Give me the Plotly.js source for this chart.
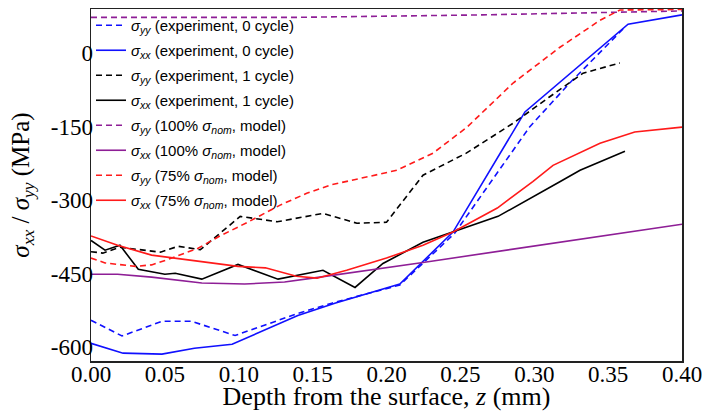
<!DOCTYPE html>
<html>
<head>
<meta charset="utf-8">
<script src="https://cdn.plot.ly/plotly-3.0.1.min.js"></script>
<style>html,body{margin:0;padding:0;background:#fff;}#chart{width:702px;height:411px;}</style>
</head>
<body>
<div id="chart"></div>
<script>
// Series: depth z (mm) and stress (MPa)
const expYY0_z = [0, 0.021, 0.048, 0.068, 0.0975, 0.14, 0.163, 0.209, 0.246, 0.297, 0.324, 0.362];
const expYY0_s = [-545, -577, -547, -547, -576, -531, -510, -473, -368, -150, -61, 55];

const expXX0_z = [0, 0.0217, 0.048, 0.070, 0.0955, 0.140, 0.165, 0.209, 0.245, 0.2937, 0.3635, 0.40];
const expXX0_s = [-592, -612, -614, -602, -594, -535, -510, -471, -365, -120, 59, 78];

const expYY1_z = [0, 0.008, 0.0196, 0.030, 0.047, 0.059, 0.074, 0.101, 0.126, 0.157, 0.180, 0.200, 0.2247, 0.254, 0.2857, 0.31, 0.333, 0.358];
const expYY1_s = [-405, -408, -396, -400, -406, -394, -401, -333, -344, -327, -347, -345, -249, -204, -143, -90, -41, -20];

const expXX1_z = [0, 0.0095, 0.0196, 0.032, 0.050, 0.057, 0.075, 0.0995, 0.1266, 0.157, 0.1787, 0.1976, 0.2247, 0.245, 0.2755, 0.317, 0.331, 0.3614];
const expXX1_s = [-382, -402, -392, -441, -451, -449, -461, -431, -461, -443, -478, -429, -386, -365, -333, -263, -239, -200];

const modYY100_z = [0, 0.14, 0.265, 0.358, 0.40];
const modYY100_s = [73, 73, 78, 84, 86];

const modXX100_z = [0, 0.018, 0.041, 0.075, 0.104, 0.131, 0.150, 0.2247, 0.40];
const modXX100_s = [-451, -451, -457, -469, -471, -467, -459, -427, -349];

const modYY75_z = [0, 0.0095, 0.030, 0.041, 0.052, 0.0725, 0.086, 0.106, 0.128, 0.146, 0.162, 0.184, 0.207, 0.2315, 0.2545, 0.2857, 0.3174, 0.3445, 0.358, 0.40];
const modYY75_s = [-418, -428, -435, -432, -421, -398, -375, -345, -310, -286, -269, -255, -239, -204, -151, -61, 12, 67, 88, 89];

const modXX75_z = [0, 0.018, 0.041, 0.075, 0.0995, 0.118, 0.139, 0.153, 0.173, 0.200, 0.2247, 0.245, 0.275, 0.299, 0.3127, 0.3445, 0.368, 0.40];
const modXX75_s = [-373, -392, -412, -426, -435, -438, -455, -459, -443, -418, -392, -365, -316, -262, -229, -184, -161, -151];

const names = [
  '<i>σ</i><sub><i>yy</i></sub> (experiment, 0 cycle)',
  '<i>σ</i><sub><i>xx</i></sub> (experiment, 0 cycle)',
  '<i>σ</i><sub><i>yy</i></sub> (experiment, 1 cycle)',
  '<i>σ</i><sub><i>xx</i></sub> (experiment, 1 cycle)',
  '<i>σ</i><sub><i>yy</i></sub> (100% <i>σ</i><sub><i>nom</i></sub>, model)',
  '<i>σ</i><sub><i>xx</i></sub> (100% <i>σ</i><sub><i>nom</i></sub>, model)',
  '<i>σ</i><sub><i>yy</i></sub> (75% <i>σ</i><sub><i>nom</i></sub>, model)',
  '<i>σ</i><sub><i>xx</i></sub> (75% <i>σ</i><sub><i>nom</i></sub>, model)'
];

const xTickVals = [0, 0.05, 0.10, 0.15, 0.20, 0.25, 0.30, 0.35, 0.40];
const xTickText = ['0.00', '0.05', '0.10', '0.15', '0.20', '0.25', '0.30', '0.35', '0.40'];
const yTickVals = [0, -150, -300, -450, -600];
const yTickText = ['0', '-150', '-300', '-450', '-600'];

const BLUE = '#1010ff', BLACK = '#000000', PURPLE = '#8e1e96', RED = '#ff1a1a';
const DASH = '6px,4px';

function tr(x, y, name, color, dash, g) {
  return {x: x, y: y, name: name, type: 'scatter', mode: 'lines', legendgroup: g,
    line: {color: color, width: 1.6, dash: dash}};
}

const data = [
  tr(expYY0_z, expYY0_s, names[0], BLUE, DASH, 'a'),
  tr(expXX0_z, expXX0_s, names[1], BLUE, 'solid', 'b'),
  tr(expYY1_z, expYY1_s, names[2], BLACK, DASH, 'c'),
  tr(expXX1_z, expXX1_s, names[3], BLACK, 'solid', 'd'),
  tr(modYY100_z, modYY100_s, names[4], PURPLE, DASH, 'e'),
  tr(modXX100_z, modXX100_s, names[5], PURPLE, 'solid', 'f'),
  tr(modYY75_z, modYY75_s, names[6], RED, DASH, 'g'),
  tr(modXX75_z, modXX75_s, names[7], RED, 'solid', 'h')
];

const serif = '"Liberation Serif", "Times New Roman", serif';
const layout = {
  width: 702, height: 411,
  margin: {l: 91, r: 20, t: 9, b: 50},
  paper_bgcolor: '#fff', plot_bgcolor: '#fff',
  showlegend: true,
  legend: {x: 0, y: 1, xanchor: 'left', yanchor: 'top', bgcolor: 'rgba(0,0,0,0)',
    borderwidth: 0, tracegroupgap: 2.5,
    font: {family: '"Liberation Sans", Arial, sans-serif', size: 15, color: '#000'}},
  xaxis: {range: [0, 0.40], showgrid: false, zeroline: false, showline: true, mirror: true,
    linecolor: '#222', linewidth: 1.5, ticks: '', tickvals: xTickVals, ticktext: xTickText,
    ticklabelstandoff: -8, automargin: false, ticklabeloverflow: 'allow',
    tickfont: {family: serif, size: 23, color: '#000'},
    title: {text: 'Depth from the surface, <i>z</i> (mm)', font: {family: serif, size: 26, color: '#000'}, standoff: 2}},
  yaxis: {range: [-628, 90], showgrid: false, zeroline: false, showline: true, mirror: true,
    linecolor: '#222', linewidth: 1.5, ticks: '', tickvals: yTickVals, ticktext: yTickText,
    ticklabelstandoff: -8, automargin: false, ticklabeloverflow: 'allow',
    tickfont: {family: serif, size: 23, color: '#000'},
    title: {text: '<i>σ</i><sub><i>xx</i></sub> / <i>σ</i><sub><i>yy</i></sub> (MPa)', font: {family: serif, size: 25, color: '#000'}, standoff: 14}}
};

Plotly.newPlot('chart', data, layout, {displayModeBar: false, staticPlot: true});
</script>
</body>
</html>
